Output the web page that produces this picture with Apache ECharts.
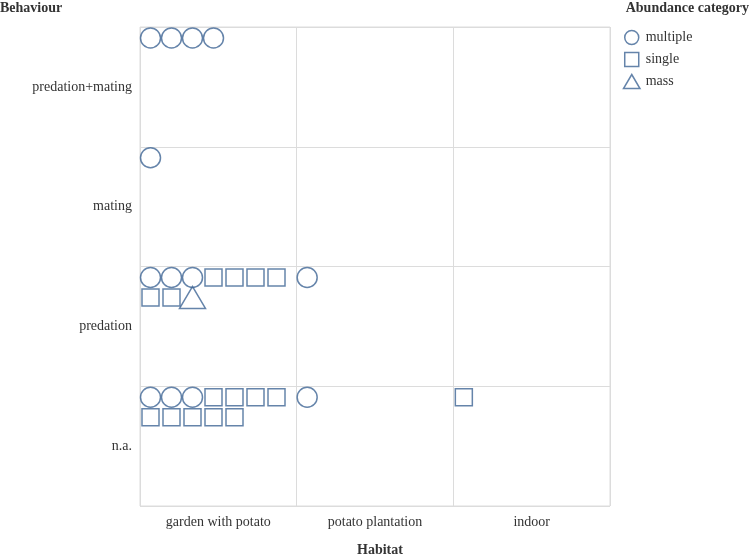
<!DOCTYPE html>
<html>
<head>
<meta charset="utf-8">
<script src="https://cdn.jsdelivr.net/npm/echarts@6/dist/echarts.min.js"></script>
<style>
  html, body { margin: 0; padding: 0; background: #fff; }
  #main { width: 749px; height: 555px; }
</style>
</head>
<body>
<div id="main"></div>
<script>
var habitats = ['garden with potato', 'potato plantation', 'indoor'];
var behaviours = ['n.a.', 'predation', 'mating', 'predation+mating'];
// counts per behaviour (row) and habitat (column)
var multipleCounts = [[3, 1, 0], [3, 1, 0], [1, 0, 0], [4, 0, 0]];
var singleCounts   = [[9, 0, 1], [6, 0, 0], [0, 0, 0], [0, 0, 0]];
var massCounts     = [[0, 0, 0], [1, 0, 0], [0, 0, 0], [0, 0, 0]];

var perRow = 7;
var cellW = 470 / 3, cellH = 478 / 4;
var color = '#3f6595';
var font = '"Liberation Serif", "DejaVu Serif", serif';

// lay symbols out in each cell, left to right, 7 per line
var pts = {multiple: [], single: [], mass: []};
behaviours.forEach(function (b, bi) {
    habitats.forEach(function (h, hi) {
        var seq = [];
        for (var i = 0; i < multipleCounts[bi][hi]; i++) seq.push('multiple');
        for (var j = 0; j < singleCounts[bi][hi]; j++) seq.push('single');
        for (var k = 0; k < massCounts[bi][hi]; k++) seq.push('mass');
        seq.forEach(function (cat, n) {
            var c = n % perRow, r = Math.floor(n / perRow);
            pts[cat].push([hi + (10.5 + c * 21) / cellW, bi + 1 - (11 + r * 20) / cellH]);
        });
    });
});

var titleStyle = {fontFamily: font, fontSize: 14, fontWeight: 'bold', color: '#333'};
var chart = echarts.init(document.getElementById('main'));
var option = {
    animation: false,
    textStyle: {fontFamily: font},
    title: [
        {text: 'Behaviour', left: 0, top: 0, padding: [1, 0, 0, 0], textStyle: titleStyle},
        {text: 'Abundance category', right: 0, top: 0, padding: [1, 0, 0, 0], textStyle: titleStyle},
        {text: 'Habitat', left: 375, textAlign: 'center', top: 538, textStyle: titleStyle}
    ],
    legend: {
        orient: 'vertical',
        left: 616,
        top: 23,
        itemWidth: 18,
        itemHeight: 14,
        itemGap: 3,
        textStyle: {fontFamily: font, fontSize: 14, color: '#333'},
        itemStyle: {color: 'none', borderColor: color, borderWidth: 1.5},
        data: [
            {name: 'multiple', icon: 'circle'},
            {name: 'single', icon: 'path://M0,0L10,0L10,10L0,10Z'},
            {name: 'mass', icon: 'path://M10,0L20,17L0,17Z'}
        ]
    },
    grid: {left: 140, right: 139, top: 27, bottom: 49, show: true, borderColor: '#dcdcdc', borderWidth: 1},
    xAxis: [
        {
            type: 'category', data: habitats, boundaryGap: true,
            axisLine: {show: false}, axisTick: {show: false},
            axisLabel: {fontFamily: font, fontSize: 14, color: '#333', margin: 9},
            splitLine: {show: false}
        },
        {
            type: 'value', min: 0, max: 3, interval: 1, show: true,
            axisLine: {show: false}, axisTick: {show: false}, axisLabel: {show: false},
            splitLine: {show: true, lineStyle: {color: '#dcdcdc', width: 1}}
        }
    ],
    yAxis: [
        {
            type: 'category', data: behaviours, boundaryGap: true,
            axisLine: {show: false}, axisTick: {show: false},
            axisLabel: {fontFamily: font, fontSize: 14, color: '#333', margin: 8},
            splitLine: {show: false}
        },
        {
            type: 'value', min: 0, max: 4, interval: 1,
            axisLine: {show: false}, axisTick: {show: false}, axisLabel: {show: false},
            splitLine: {show: true, lineStyle: {color: '#dcdcdc', width: 1}}
        }
    ],
    series: [
        {
            name: 'multiple', type: 'scatter', xAxisIndex: 1, yAxisIndex: 1,
            symbol: 'circle', symbolSize: 20,
            itemStyle: {color: 'none', borderColor: color, borderWidth: 1.5},
            data: pts.multiple
        },
        {
            name: 'single', type: 'scatter', xAxisIndex: 1, yAxisIndex: 1,
            symbol: 'rect', symbolSize: 17,
            itemStyle: {color: 'none', borderColor: color, borderWidth: 1.5},
            data: pts.single
        },
        {
            name: 'mass', type: 'scatter', xAxisIndex: 1, yAxisIndex: 1,
            symbol: 'triangle', symbolSize: [26, 22],
            itemStyle: {color: 'none', borderColor: color, borderWidth: 1.5},
            data: pts.mass
        }
    ]
};
chart.setOption(option);
window.onresize = function () {
    chart.resize();
};
</script>
</body>
</html>
